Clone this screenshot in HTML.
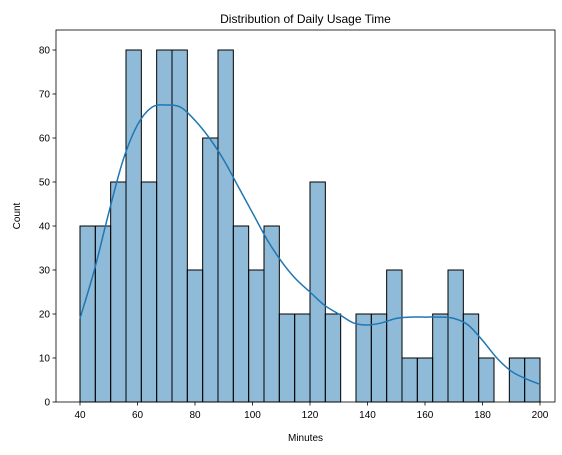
<!DOCTYPE html>
<html><head><meta charset="utf-8"><style>
html,body{margin:0;padding:0;background:#fff;}
svg{display:block;font-family:"Liberation Sans","DejaVu Sans",sans-serif;}
</style></head><body>
<svg id="chart" width="562" height="455"></svg>
<script>
const binStart = 40, binEnd = 200;
const counts = [40,40,50,80,50,80,80,30,60,80,40,30,40,20,20,50,20,0,20,20,30,10,10,20,30,20,10,0,10,10];
const kdeX = [40,45,50,55,60,65,70,75,80,85,90,95,100,105,110,115,120,125,130,135,140,145,150,155,160,165,170,175,180,185,190,195,200];
const kdeY = [19,30,43,55,63,67,67.5,67,64,60,55,49,43,37,32,28,25,22,20,18,17.5,18,19,19.3,19.3,19.3,19,17.5,14,10,7,5.3,4];
const xTicks = [40,60,80,100,120,140,160,180,200];
const yTicks = [0,10,20,30,40,50,60,70,80];

const L=56,R=555,T=30,B=402;
const xs = v => 80 + (v-40)*(460/160);
const ys = v => 402 - v*4.4;
const NS="http://www.w3.org/2000/svg";
const svg=document.getElementById('chart');
function mk(tag,attrs,parent){const e=document.createElementNS(NS,tag);for(const k in attrs)e.setAttribute(k,attrs[k]);(parent||svg).appendChild(e);return e;}

const bw=(binEnd-binStart)/counts.length;
counts.forEach((c,i)=>{
  if(c<=0) return;
  const x0=xs(binStart+i*bw), x1=xs(binStart+(i+1)*bw);
  const r=mk('rect',{x:x0,y:ys(c),width:x1-x0,height:ys(0)-ys(c),fill:'rgba(31,119,180,0.5)',stroke:'#000','stroke-width':1});
  
  
});
const pts=kdeX.map((x,i)=>[xs(x),ys(kdeY[i])]);
let d='M'+pts[0][0]+','+pts[0][1];
for(let i=0;i<pts.length-1;i++){
  const p0=pts[Math.max(0,i-1)],p1=pts[i],p2=pts[i+1],p3=pts[Math.min(pts.length-1,i+2)];
  const c1=[p1[0]+(p2[0]-p0[0])/6,p1[1]+(p2[1]-p0[1])/6];
  const c2=[p2[0]-(p3[0]-p1[0])/6,p2[1]-(p3[1]-p1[1])/6];
  d+='C'+c1.join(',')+' '+c2.join(',')+' '+p2.join(',');
}
const p=mk('path',{d:d,fill:'none',stroke:'#1f77b4','stroke-width':1.5});



const fr=mk('rect',{x:L,y:T,width:R-L,height:B-T,fill:'none',stroke:'#000','stroke-width':0.8});



xTicks.forEach(v=>{
  mk('line',{x1:xs(v),x2:xs(v),y1:B,y2:B+3.5,stroke:'#000','stroke-width':0.8});
  const t=mk('text',{x:xs(v),y:B+16,'text-anchor':'middle','font-size':10,fill:'#000'});
  t.textContent=v;
  
  
});
yTicks.forEach(v=>{
  mk('line',{x1:L-3.5,x2:L,y1:ys(v),y2:ys(v),stroke:'#000','stroke-width':0.8});
  const t=mk('text',{x:L-6,y:ys(v)+3.5,'text-anchor':'end','font-size':10,fill:'#000'});
  t.textContent=v;
  
  
});
const xt=mk('text',{x:(L+R)/2,y:441,'text-anchor':'middle','font-size':10});
xt.textContent='Minutes';


const yt=mk('text',{x:20,y:(T+B)/2,'text-anchor':'middle','font-size':10,transform:'rotate(-90 20 '+((T+B)/2)+')'});
yt.textContent='Count';


const tt=mk('text',{x:(L+R)/2,y:23,'text-anchor':'middle','font-size':12});
tt.textContent='Distribution of Daily Usage Time';


</script>
</body></html>
